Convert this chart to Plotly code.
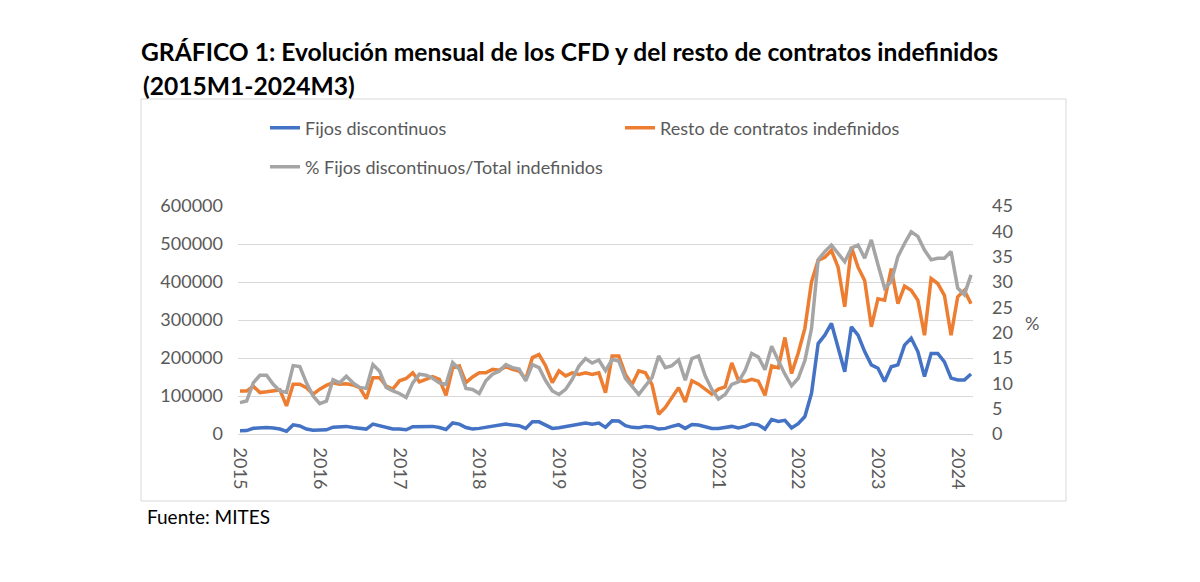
import plotly.graph_objects as go

# ---------------- data ----------------
years = list(range(2015, 2025))
months = [f"{y}M{m}" for y in years for m in range(1, 13)][:111]  # 2015M1 .. 2024M3
year_ticks = [f"{y}M1" for y in years]
year_labels = [str(y) for y in years]

fijos_discontinuos = [
    8700, 9000, 15000, 17000, 17000, 16000, 13000, 7000, 24000, 21000, 13000, 10000,          # 2015
    10000, 11000, 18000, 18000, 20000, 17000, 15000, 13000, 26000, 22000, 16000, 13000,       # 2016
    13000, 11000, 19000, 20000, 21000, 20000, 17000, 12000, 29000, 26000, 17000, 13000,       # 2017
    14800, 17500, 20000, 23600, 26000, 23600, 22000, 14800, 32000, 32000, 23600, 14800,       # 2018
    16500, 20000, 23600, 26000, 28800, 26000, 28800, 17500, 35000, 34000, 22000, 17500,       # 2019
    16500, 20000, 18300, 13000, 14800, 20000, 24500, 14800, 25000, 23600, 18300, 14800,       # 2020
    14800, 17000, 20000, 16000, 20000, 27000, 24000, 13000, 38000, 33000, 36000, 16000,       # 2021
    27000, 46000, 107000, 238000, 260000, 291000, 230000, 164000, 282000, 260000, 217000, 182000,  # 2022
    173000, 138000, 177000, 182000, 234000, 252000, 217000, 151000, 212000, 212000, 190000, 147000,  # 2023
    142000, 142000, 158000,                                                                     # 2024
]

resto_indefinidos = [
    113000, 113000, 126000, 109000, 111000, 113000, 116000, 74000, 131000, 131000, 122000, 105000,   # 2015
    118000, 128000, 135000, 131000, 132000, 129000, 122000, 93000, 148000, 148000, 126000, 118000,   # 2016
    140000, 146000, 161000, 137000, 144000, 151000, 144000, 102000, 174000, 179000, 135000, 150000,  # 2017
    161000, 161000, 170000, 168000, 177000, 170000, 166000, 144000, 201000, 209000, 179000, 135000,  # 2018
    166000, 153000, 161000, 157000, 161000, 157000, 161000, 109000, 205000, 205000, 157000, 130000,  # 2019
    166000, 161000, 130000, 52000, 70000, 98000, 122000, 84000, 140000, 131000, 118000, 105000,      # 2020
    118000, 124000, 187000, 141000, 138000, 144000, 139000, 102000, 179000, 174000, 254000, 159000,  # 2021
    213000, 278000, 400000, 457000, 465000, 483000, 439000, 335000, 492000, 439000, 404000, 282000,  # 2022
    356000, 352000, 435000, 343000, 389000, 378000, 352000, 260000, 409000, 396000, 365000, 260000,  # 2023
    361000, 378000, 343000,                                                                          # 2024
]

pct_fijos_total = [
    6.2, 6.5, 10.1, 11.6, 11.6, 9.8, 8.5, 8.2, 13.5, 13.3, 10.1, 7.5,        # 2015
    6.0, 6.5, 10.7, 10.1, 11.4, 10.1, 9.2, 9.0, 13.7, 12.4, 9.2, 8.5,        # 2016
    8.0, 7.2, 10.1, 11.8, 11.6, 11.0, 10.1, 9.8, 14.1, 12.8, 9.0, 8.8,       # 2017
    8.0, 10.5, 11.8, 12.4, 13.7, 13.1, 12.8, 10.5, 13.7, 13.1, 10.5, 8.5,    # 2018
    7.8, 8.8, 10.8, 13.4, 14.9, 14.0, 14.6, 12.5, 14.7, 14.4, 11.0, 9.4,     # 2019
    7.8, 9.5, 11.1, 15.4, 13.1, 13.5, 14.6, 10.6, 14.9, 15.4, 11.5, 8.8,     # 2020
    6.9, 7.8, 9.8, 10.3, 12.5, 15.9, 15.2, 12.7, 17.3, 14.5, 11.8, 9.5,      # 2021
    11.0, 14.5, 20.8, 34.4, 36.0, 37.3, 35.7, 34.0, 36.7, 37.3, 34.7, 38.3,  # 2022
    33.4, 28.8, 30.1, 35.0, 37.6, 39.9, 39.0, 36.3, 34.4, 34.7, 34.7, 36.0,  # 2023
    28.8, 27.5, 31.4,                                                        # 2024
]

# ---------------- layout geometry (pixels) ----------------
W, H = 1200, 582
PL, PR, PT, PB = 238, 973, 206, 434   # plot area
pw, ph = PR - PL, PB - PT


def px(x):
    return (x - PL) / pw


def py(y):
    return (PB - y) / ph


FONT = "Lato"
GREY_TXT = "#595959"
TICK = 18
LEG = 18
TITLE = 24.6

fig = go.Figure()
fig.add_trace(go.Scatter(x=months, y=fijos_discontinuos, name="Fijos discontinuos",
                         mode="lines", line=dict(color="#4472C4", width=3.5), legend="legend"))
fig.add_trace(go.Scatter(x=months, y=resto_indefinidos, name="Resto de contratos indefinidos",
                         mode="lines", line=dict(color="#ED7D31", width=3.5), legend="legend"))
fig.add_trace(go.Scatter(x=months, y=pct_fijos_total, name="% Fijos discontinuos/Total indefinidos",
                         mode="lines", line=dict(color="#A5A5A5", width=3.5), yaxis="y2",
                         legend="legend2"))

fig.update_layout(
    width=W, height=H, autosize=False,
    margin=dict(l=PL, r=W - PR, t=PT, b=H - PB, pad=0),
    paper_bgcolor="white", plot_bgcolor="white",
    font=dict(family=FONT, color=GREY_TXT, size=16),
    xaxis=dict(type="category", categoryorder="array", categoryarray=months,
               range=[-0.3, len(months) - 1 + 0.3],
               tickmode="array", tickvals=year_ticks, ticktext=year_labels,
               tickangle=90, showgrid=False, showline=True, linecolor="#D9D9D9",
               linewidth=1, ticks="", ticklabelstandoff=9,
               tickfont=dict(size=TICK, color=GREY_TXT), zeroline=False),
    yaxis=dict(range=[0, 600000], dtick=100000, tickformat="d", showgrid=True,
               gridcolor="#D9D9D9", gridwidth=1, zeroline=False, showline=False,
               ticks="", ticklabelstandoff=14, tickfont=dict(size=TICK, color=GREY_TXT)),
    yaxis2=dict(range=[0, 45], dtick=5, overlaying="y", side="right", showgrid=False,
                zeroline=False, showline=False, ticks="", ticklabelstandoff=18,
                tickfont=dict(size=TICK, color=GREY_TXT)),
    legend=dict(orientation="h", x=px(265), xanchor="left", y=py(128), yanchor="middle",
                entrywidth=310, font=dict(size=LEG, color=GREY_TXT), bgcolor="rgba(0,0,0,0)"),
    legend2=dict(orientation="h", x=px(265), xanchor="left", y=py(167), yanchor="middle",
                 font=dict(size=LEG, color=GREY_TXT), bgcolor="rgba(0,0,0,0)"),
    showlegend=True,
    title=dict(text="<b>GRÁFICO 1: Evolución mensual de los CFD y del resto de contratos indefinidos</b>",
               x=141 / W, xanchor="left", xref="container",
               y=1 - 52 / H, yanchor="middle",
               font=dict(family=FONT, size=TITLE, color="black")),
    shapes=[dict(type="rect", xref="paper", yref="paper",
                 x0=px(141), x1=px(1066), y0=py(501), y1=py(99),
                 line=dict(color="#D9D9D9", width=1), fillcolor="rgba(0,0,0,0)", layer="below")],
    annotations=[
        dict(text="<b>(2015M1-2024M3)</b>", xref="paper", yref="paper", x=px(141), y=py(85),
             xanchor="left", yanchor="middle", showarrow=False,
             font=dict(family=FONT, size=TITLE, color="black")),
        dict(text="%", xref="paper", yref="paper", x=px(1023), y=py(323),
             xanchor="left", yanchor="middle", showarrow=False,
             font=dict(family=FONT, size=18, color=GREY_TXT)),
        dict(text="Fuente: MITES", xref="paper", yref="paper", x=px(145), y=py(516),
             xanchor="left", yanchor="middle", showarrow=False,
             font=dict(family=FONT, size=19, color="black")),
    ],
)

fig.write_html("out.html")
